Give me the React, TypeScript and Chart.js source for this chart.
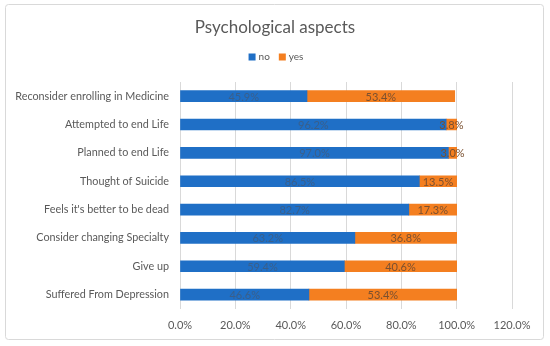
import React, { useEffect, useRef } from "react";
import { Chart, registerables } from "chart.js";

Chart.register(...registerables);

const categories = [
  "Reconsider enrolling in Medicine",
  "Attempted to end Life",
  "Planned to end Life",
  "Thought of Suicide",
  "Feels it's better to be dead",
  "Consider changing Specialty",
  "Give up",
  "Suffered From Depression",
];
const noValues = [45.9, 96.2, 97.0, 86.5, 82.7, 63.2, 59.4, 46.6];
const yesValues = [53.4, 3.8, 3.0, 13.5, 17.3, 36.8, 40.6, 53.4];
const xTicks = [0, 20, 40, 60, 80, 100, 120];
const seriesNames = ["no", "yes"];
const seriesColors = ["#1f6fc6", "#f47f20"];
const titleText = "Psychological aspects";

const FONT = "Lato, 'Open Sans', sans-serif";

const labelPlugin = {
  id: "barLabels",
  afterDatasetsDraw(chart: any) {
    const ctx = chart.ctx;
    ctx.save();
    ctx.font = `11px ${FONT}`;
    ctx.textAlign = "center";
    ctx.textBaseline = "middle";
    chart.data.datasets.forEach((ds: any, di: number) => {
      const meta = chart.getDatasetMeta(di);
      meta.data.forEach((bar: any, i: number) => {
        const v = ds.data[i];
        const cx = (bar.x + bar.base) / 2;
        ctx.fillStyle = di === 0 ? "#3a5f8a" : "#7a5030";
        ctx.fillText(v.toFixed(1) + "%", cx, bar.y + 1);
      });
    });
    ctx.restore();
  },
};

const decorPlugin = {
  id: "decor",
  beforeDraw(chart: any) {
    const ctx = chart.ctx;
    ctx.save();
    ctx.fillStyle = "#ffffff";
    ctx.fillRect(0, 0, chart.width, chart.height);
    ctx.strokeStyle = "#d9d9d9";
    ctx.lineWidth = 1;
    ctx.beginPath();
    (ctx as any).roundRect(5.5, 4.5, 538, 335, 3);
    ctx.stroke();
    ctx.restore();
  },
  afterDraw(chart: any) {
    const ctx = chart.ctx;
    ctx.save();
    ctx.fillStyle = "#595959";
    ctx.textAlign = "center";
    ctx.textBaseline = "alphabetic";
    ctx.font = `17px ${FONT}`;
    ctx.fillText(titleText, 275, 33);
    // legend
    ctx.font = `10px ${FONT}`;
    ctx.textAlign = "left";
    ctx.textBaseline = "middle";
    const widths = seriesNames.map((n) => ctx.measureText(n).width);
    const box = 7;
    const gap = 3;
    const itemGap = 9;
    const total =
      widths.reduce((a, w) => a + box + gap + w, 0) + itemGap * (seriesNames.length - 1);
    let x = 276 - total / 2;
    const y = 57;
    seriesNames.forEach((n, i) => {
      ctx.fillStyle = seriesColors[i];
      ctx.fillRect(x, y - box / 2, box, box);
      ctx.fillStyle = "#595959";
      ctx.fillText(n, x + box + gap, y);
      x += box + gap + widths[i] + itemGap;
    });
    ctx.restore();
  },
};

export default function App() {
  const ref = useRef<HTMLCanvasElement>(null);
  useEffect(() => {
    document.body.style.margin = "0";
    const chart = new Chart(ref.current!, {
      type: "bar",
      data: {
        labels: categories,
        datasets: seriesNames.map((n, i) => ({
          label: n,
          data: i === 0 ? noValues : yesValues,
          backgroundColor: seriesColors[i],
          barThickness: 11,
        })),
      },
      options: {
        indexAxis: "y",
        animation: false,
        responsive: false,
        layout: { padding: { left: 10, right: 38, top: 82, bottom: 4 } },
        plugins: {
          title: { display: false },
          legend: { display: false },
          tooltip: { enabled: false },
        },
        scales: {
          x: {
            stacked: true,
            min: 0,
            max: 120,
            afterBuildTicks(axis: any) {
              axis.ticks = xTicks.map((v) => ({ value: v }));
            },
            ticks: {
              color: "#595959",
              font: { family: FONT, size: 11 },
              callback: (v: any) => Number(v).toFixed(1) + "%",
              padding: 10,
            },
            grid: { color: "#d9d9d9", drawTicks: false },
            border: { display: false },
          },
          y: {
            stacked: true,
            afterFit(axis: any) {
              axis.width = 170;
            },
            ticks: {
              color: "#595959",
              font: { family: FONT, size: 10.8 },
              padding: 11,
            },
            grid: { display: false, drawTicks: false },
            border: { display: false },
          },
        },
      },
      plugins: [labelPlugin, decorPlugin],
    } as any);
    return () => chart.destroy();
  }, []);
  return <canvas ref={ref} width={550} height={346} style={{ display: "block" }} />;
}
